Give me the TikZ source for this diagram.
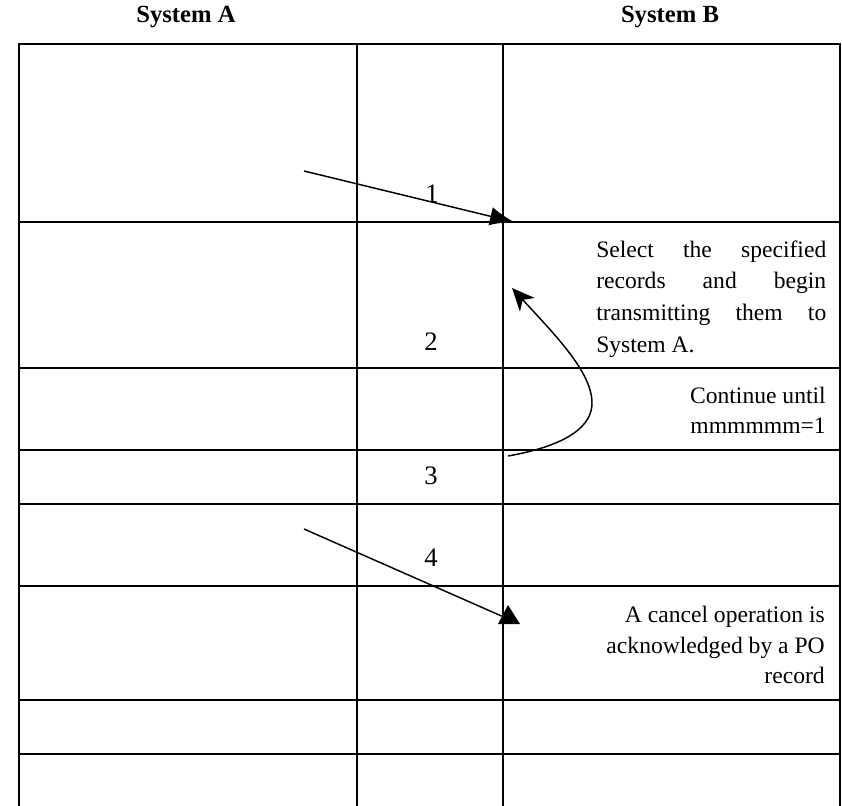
\documentclass[tikz,border=0pt]{standalone}
\usepackage{fontspec}
\setmainfont{Liberation Serif}
\usetikzlibrary{arrows.meta}
\begin{document}
\begin{tikzpicture}[x=0.75pt,y=-0.75pt,
  rule/.style={line width=1.5pt, line cap=rect},
  headtxt/.style={font=\bfseries\fontsize{18.5}{22}\selectfont, inner sep=0pt},
  bodytxt/.style={font=\fontsize{17.7}{23.8}\selectfont, inner sep=0pt},
  numtxt/.style={font=\fontsize{20}{24}\selectfont, inner sep=0pt},
  conn/.style={line width=1.1pt},
]
\useasboundingbox (0,0) rectangle (842,806);
% grid
\draw[rule] (19,806) -- (19,44) -- (840,44) -- (840,806);
\foreach \yy in {222,368,450,504,586,700,754}{
  \draw[rule] (19,\yy) -- (840,\yy);
}
\draw[rule] (357,44) -- (357,806);
\draw[rule] (503,44) -- (503,806);
% headers
\node[headtxt] (hA) at (186,17) {System A};
\node[headtxt] (hB) at (670,17) {System B};
% numbers
\node[numtxt] (n1) at (432,194) {1};
\node[numtxt] (n2) at (431,342) {2};
\node[numtxt] (n3) at (431,476) {3};
\node[numtxt] (n4) at (431,558) {4};
% row 2 text (justified)
\node[bodytxt, anchor=base west] (t1) at (596,257) {\hbox to 172.5pt{Select\hfill the\hfill specified}};
\node[bodytxt, anchor=base west] (t2) at (596,288) {\hbox to 172.5pt{records\hfill and\hfill begin}};
\node[bodytxt, anchor=base west] (t3) at (596,320) {\hbox to 172.5pt{transmitting\hfill them\hfill to}};
\node[bodytxt, anchor=base west] (t4) at (596,352) {System A.};
% row 3 text
\node[bodytxt, anchor=base east] (c1) at (826,403) {Continue until};
\node[bodytxt, anchor=base east] (c2) at (826,433) {mmmmmm=1};
% row 6 text
\node[bodytxt, anchor=base east] (r1) at (825,622) {A cancel operation is};
\node[bodytxt, anchor=base east] (r2) at (825,653) {acknowledged by a PO};
\node[bodytxt, anchor=base east] (r3) at (825,683) {record};
% arrows
\coordinate (a1s) at (304,171);
\coordinate (a1e) at (514,222);
\draw[conn,-{Latex[length=18pt,width=14pt]}] (a1s) -- (a1e);
\coordinate (a2s) at (508,456);
\coordinate (a2m) at (592,403);
\coordinate (a2e) at (512,288);
\draw[conn,-{Stealth[length=17pt,width=15pt,inset=5pt]}] (a2s) .. controls (570,445) and (592,425) .. (a2m) .. controls (592,372) and (555,335) .. (a2e);
\coordinate (a4s) at (304,529);
\coordinate (a4e) at (506,618);
\draw[conn] (a4s) -- (a4e);
\fill (498,624) -- (520,624) -- (508,605) -- cycle;
\end{tikzpicture}
\end{document}
